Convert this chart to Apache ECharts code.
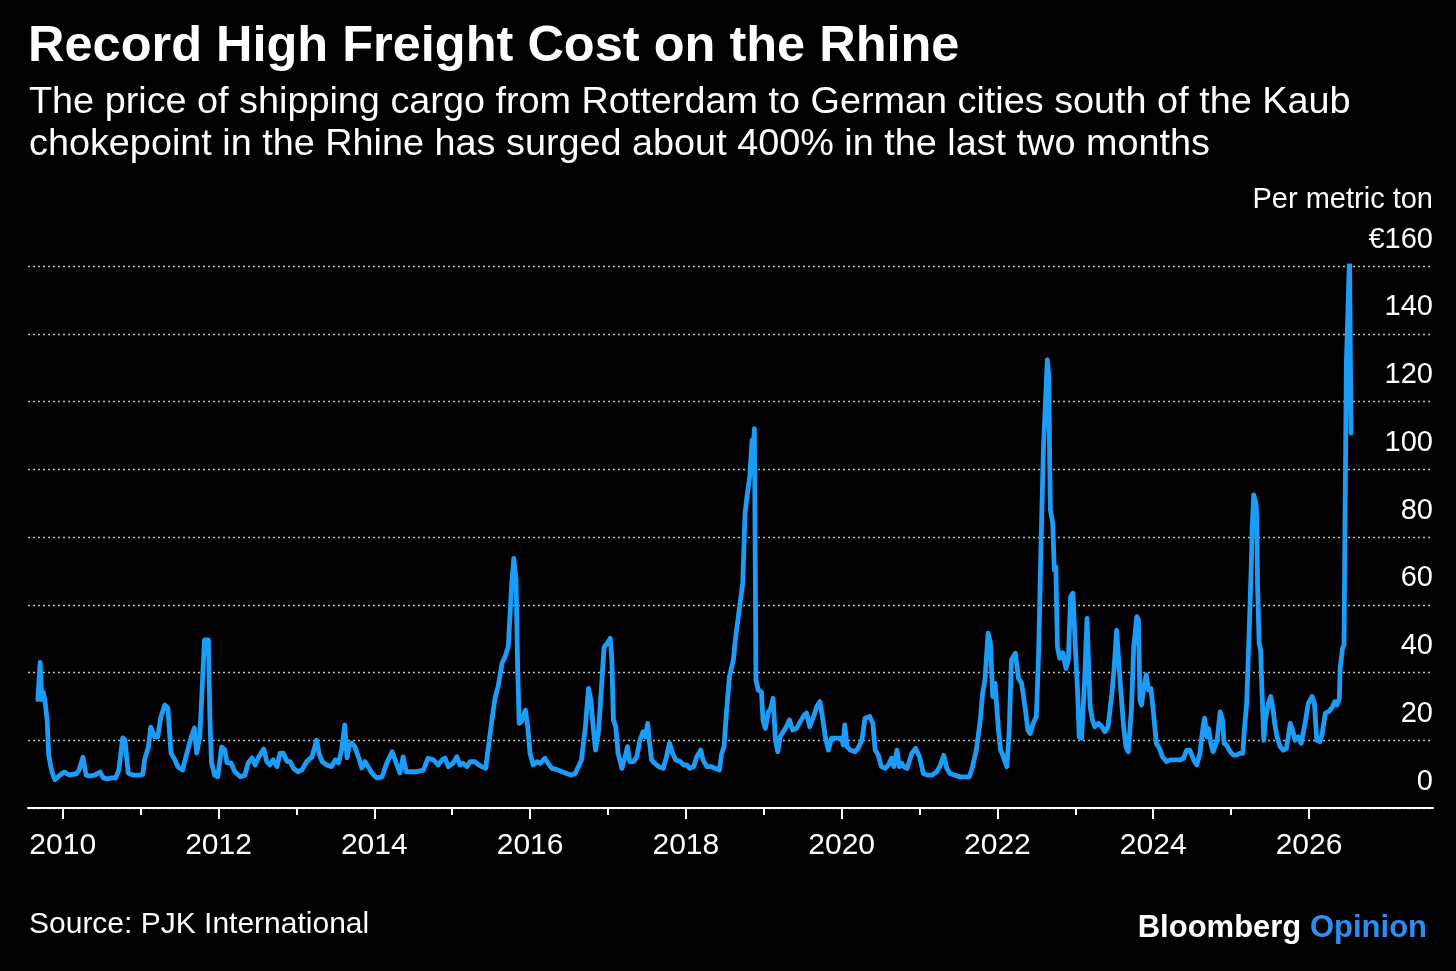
<!DOCTYPE html>
<html>
<head>
<meta charset="utf-8">
<script src="https://cdn.jsdelivr.net/npm/echarts@6/dist/echarts.min.js"></script>
<style>
html,body{margin:0;padding:0;background:#000;}
#chart{width:1456px;height:971px;}
</style>
</head>
<body>
<div id="chart"></div>
<script>
// Decimal-year dates and freight cost (EUR per metric ton)
const dates = [
2009.68,2009.71,2009.73,2009.75,2009.77,2009.80,2009.82,2009.85,2009.88,2009.90,2009.94,2009.98,
2010.02,2010.06,2010.09,2010.13,2010.17,2010.21,2010.26,2010.30,2010.35,2010.41,2010.48,2010.52,
2010.57,2010.63,2010.68,2010.72,2010.77,2010.80,2010.84,2010.90,2010.99,2011.03,2011.05,2011.10,
2011.13,2011.18,2011.22,2011.26,2011.31,2011.35,2011.39,2011.44,2011.48,2011.54,2011.58,2011.65,
2011.69,2011.72,2011.76,2011.82,2011.87,2011.89,2011.91,2011.95,2011.99,2012.04,2012.08,2012.11,
2012.16,2012.21,2012.28,2012.34,2012.38,2012.43,2012.47,2012.51,2012.58,2012.62,2012.66,2012.70,
2012.75,2012.79,2012.83,2012.88,2012.92,2012.96,2013.02,2013.07,2013.13,2013.20,2013.26,2013.29,
2013.33,2013.39,2013.45,2013.50,2013.54,2013.58,2013.62,2013.65,2013.68,2013.71,2013.75,2013.80,
2013.84,2013.88,2013.92,2013.97,2014.03,2014.10,2014.16,2014.23,2014.29,2014.33,2014.37,2014.41,
2014.46,2014.54,2014.63,2014.69,2014.76,2014.82,2014.87,2014.91,2014.95,2015.01,2015.06,2015.10,
2015.14,2015.19,2015.23,2015.29,2015.34,2015.38,2015.43,2015.46,2015.51,2015.55,2015.59,2015.64,
2015.68,2015.72,2015.76,2015.79,2015.82,2015.84,2015.86,2015.89,2015.94,2015.97,2016.00,2016.04,
2016.09,2016.13,2016.19,2016.23,2016.28,2016.34,2016.41,2016.47,2016.53,2016.58,2016.62,2016.66,
2016.71,2016.75,2016.78,2016.81,2016.84,2016.88,2016.92,2016.95,2016.99,2017.03,2017.05,2017.07,
2017.10,2017.13,2017.18,2017.22,2017.25,2017.28,2017.33,2017.37,2017.41,2017.45,2017.48,2017.51,
2017.53,2017.56,2017.60,2017.65,2017.71,2017.75,2017.79,2017.83,2017.87,2017.93,2017.97,2018.01,
2018.05,2018.10,2018.14,2018.19,2018.22,2018.27,2018.33,2018.37,2018.43,2018.46,2018.49,2018.52,
2018.56,2018.61,2018.64,2018.69,2018.73,2018.76,2018.79,2018.82,2018.85,2018.86,2018.88,2018.90,
2018.93,2018.97,2018.99,2019.02,2019.06,2019.09,2019.12,2019.15,2019.18,2019.21,2019.25,2019.29,
2019.33,2019.37,2019.42,2019.47,2019.52,2019.55,2019.59,2019.64,2019.68,2019.72,2019.76,2019.79,
2019.83,2019.87,2019.94,2020.00,2020.02,2020.04,2020.07,2020.11,2020.17,2020.21,2020.26,2020.30,
2020.36,2020.40,2020.43,2020.47,2020.51,2020.56,2020.60,2020.64,2020.67,2020.71,2020.74,2020.77,
2020.80,2020.84,2020.90,2020.95,2021.00,2021.05,2021.10,2021.16,2021.22,2021.26,2021.31,2021.35,
2021.39,2021.45,2021.52,2021.58,2021.64,2021.68,2021.73,2021.78,2021.81,2021.84,2021.88,2021.91,
2021.94,2021.97,2022.01,2022.04,2022.07,2022.12,2022.15,2022.18,2022.23,2022.27,2022.31,2022.36,
2022.39,2022.42,2022.46,2022.50,2022.53,2022.56,2022.59,2022.64,2022.66,2022.67,2022.68,2022.71,
2022.73,2022.75,2022.77,2022.80,2022.84,2022.88,2022.91,2022.94,2022.97,2023.00,2023.03,2023.05,
2023.08,2023.12,2023.15,2023.17,2023.19,2023.22,2023.25,2023.30,2023.34,2023.38,2023.42,2023.47,
2023.50,2023.53,2023.55,2023.58,2023.62,2023.65,2023.68,2023.72,2023.75,2023.79,2023.81,2023.83,
2023.85,2023.88,2023.91,2023.94,2023.97,2024.00,2024.04,2024.08,2024.12,2024.17,2024.22,2024.28,
2024.35,2024.39,2024.43,2024.47,2024.52,2024.56,2024.60,2024.64,2024.66,2024.69,2024.71,2024.74,
2024.77,2024.82,2024.86,2024.89,2024.91,2024.94,2024.99,2025.03,2025.07,2025.11,2025.15,2025.17,
2025.20,2025.23,2025.26,2025.27,2025.29,2025.32,2025.33,2025.34,2025.36,2025.38,2025.39,2025.42,
2025.44,2025.48,2025.51,2025.54,2025.56,2025.59,2025.63,2025.67,2025.71,2025.76,2025.79,2025.82,
2025.86,2025.90,2025.95,2025.99,2026.04,2026.07,2026.10,2026.14,2026.17,2026.21,2026.25,2026.29,
2026.33,2026.36,2026.39,2026.40,2026.43,2026.45,2026.46,2026.48,2026.52,2026.54
];
const freight = [
32,43,32,34.2,32,26,15.6,11.8,9.4,8.3,9.2,10,
10.6,10,9.7,10,10,11.2,15,9.7,9.4,9.7,10.6,8.9,
8.6,8.9,8.9,11.2,20.7,20,10.3,9.7,9.7,10,14.2,18,
23.9,21,21,26.9,30.4,29.5,16.2,14.2,12.1,11.2,15,21,
23.6,16.2,21,49.6,49.6,26,13.3,9.7,9.2,18,17.1,13.3,
13.3,10.7,9.2,9.7,13.3,14.8,12.7,14.8,17.4,13.7,12.7,14.2,
12.2,16.2,16.2,13.7,13.7,11.8,10.7,11.2,13.7,15.1,20,16.2,
13.7,12.7,12.2,14.2,13.3,17.1,24.5,14.8,18.6,19.2,18.1,14.8,
11.8,13.7,12.2,10.3,8.9,9.2,13.3,16.6,12.7,10.3,15.1,10.7,
10.7,10.7,11.2,14.7,14.2,12.7,14.2,14.7,12.2,13.2,15.1,12.7,
13.2,12.2,13.7,13.7,12.7,12.2,11.7,17.1,26,32.4,35.8,42.7,
44.7,47.6,64.4,73.7,67.3,41.7,25,25.5,28.9,24,16.1,12.7,
13.7,13.2,14.7,13.2,11.7,11.4,10.7,10.2,9.7,10.2,12.2,14.2,
24,35.3,31.9,24,17.1,23,36.8,47.6,48.6,50.1,43.7,26,
24,16.1,11.7,15.1,18.1,13.7,13.7,15.1,20,22.5,21,25,
20,14.2,13.2,12.2,11.7,15.1,19.1,16.1,14.2,13.7,12.7,12.7,
11.7,12.2,15.1,17.1,14.2,12.2,12.2,11.7,11.2,16.1,18.1,28,
38.8,43.7,50.6,59.4,66.3,87,92.9,97.8,108.6,104,112,37.8,
34.8,34.3,26,23.5,28.4,29.4,32.4,20,16.6,21,22.5,24,
26,23,23.5,25.5,27.5,28,24,27,29.9,31.4,26,21,
17.1,20.6,20.6,20.6,18.6,24.5,18.1,17.1,16.6,17.6,20,26.5,
27,25,17.1,15.6,12.2,11.7,12.7,14.7,12.2,17.1,12.2,13.2,
12.2,11.7,16.1,17.6,15.1,10.2,9.7,9.7,10.7,12.2,15.6,11.7,
10.2,9.7,9.2,9.2,9.2,12.2,17.1,26,33.9,37.8,51.6,48.6,
32.9,36.8,24,17.1,15.6,12.2,22,43.7,45.7,38.3,36.8,28.9,
23,22,25,27,46.6,78.1,105.7,132.3,127.3,103.7,88,84,
70.3,71.2,47.6,44.2,45.8,41.2,43.7,62.4,63.4,47.6,33.9,21,
20.6,37.8,56,56.5,29.9,26,24,25,24,22.5,24,33.9,
41.7,52.5,52.5,35.8,24,18.1,16.6,28.9,47.6,56.5,55.5,31.9,
30.4,35.8,39.3,34.8,35.3,28.9,19.1,17.6,15.1,13.7,14.2,14.2,
14.2,14.7,17.1,17.1,14.2,12.7,16.1,24,26.5,21,23.5,19.1,
16.6,20,28.4,26,19.1,18.6,16.6,15.6,15.6,16.1,16.1,23,
30.9,50.6,72.2,82.1,92.4,90,86,65.3,48.6,46.6,38.8,20,
26,30.9,32.9,28.9,25,21,18.1,17.1,17.6,25,23,20,
21,19.1,25,30.9,32.9,30.9,20,19.6,22,28,28.4,29.4,
31.4,30.4,32.4,41.2,47.1,48.1,77.6,131.4,162.4,110.7
];
const labelYears = [2010, 2012, 2014, 2016, 2018, 2020, 2022, 2024, 2026];
const minorYears = [2011, 2013, 2015, 2017, 2019, 2021, 2023, 2025];
const yMin = 0, yMax = 160, yStep = 20;

const FONT = 'Liberation Sans';
const seriesData = dates.map((d, i) => [d, freight[i]]);

const chart = echarts.init(document.getElementById('chart'), null, {renderer: 'canvas'});
chart.setOption({
  backgroundColor: '#000',
  animation: false,
  title: [
    {text: 'Record High Freight Cost on the Rhine', left: 28, top: 19, padding: 0,
     textStyle: {color: '#fff', fontFamily: FONT, fontWeight: 'bold', fontSize: 50.5, lineHeight: 57}},
    {text: 'The price of shipping cargo from Rotterdam to German cities south of the Kaub\nchokepoint in the Rhine has surged about 400% in the last two months',
     left: 29, top: 82, padding: 0,
     textStyle: {color: '#fff', fontFamily: FONT, fontWeight: 'normal', fontSize: 37.8, lineHeight: 42}},
    {text: 'Per metric ton', right: 23, top: 183, padding: 0,
     textStyle: {color: '#fff', fontFamily: FONT, fontWeight: 'normal', fontSize: 29, lineHeight: 34}},
    {text: 'Source: PJK International', left: 29, top: 908, padding: 0,
     textStyle: {color: '#fff', fontFamily: FONT, fontWeight: 'normal', fontSize: 30, lineHeight: 34}},
    {text: '{a|Bloomberg} {b|Opinion}', right: 29, top: 910, padding: 0,
     textStyle: {fontFamily: FONT, fontSize: 31, lineHeight: 36,
       rich: {
         a: {color: '#fff', fontFamily: FONT, fontWeight: 'bold', fontSize: 31},
         b: {color: '#2b8ef5', fontFamily: FONT, fontWeight: 'bold', fontSize: 31}
       }}}
  ],
  grid: {left: 28, right: 23, top: 266, bottom: 163, containLabel: false},
  xAxis: [
    {
      type: 'value', min: 2009.554, max: 2027.592,
      axisLine: {show: true, lineStyle: {color: '#fff', width: 2}},
      axisTick: {show: true, customValues: labelYears, length: 11, lineStyle: {color: '#fff', width: 2}},
      axisLabel: {show: true, customValues: labelYears, color: '#fff', fontFamily: FONT, fontSize: 30, margin: 23,
                  formatter: v => String(Math.round(v))},
      splitLine: {show: false}
    },
    {
      type: 'value', min: 2009.554, max: 2027.592, position: 'bottom',
      axisLine: {show: false},
      axisTick: {show: true, customValues: minorYears, length: 7, lineStyle: {color: '#fff', width: 2}},
      axisLabel: {show: false},
      splitLine: {show: false}
    }
  ],
  yAxis: {
    type: 'value', position: 'right', min: yMin, max: yMax, interval: yStep,
    axisLine: {show: false}, axisTick: {show: false},
    axisLabel: {inside: true, margin: 0, color: '#fff', fontFamily: FONT, fontSize: 29, lineHeight: 29,
                verticalAlign: 'bottom', align: 'right', padding: [0, 0, 12, 0],
                formatter: v => v === 160 ? '€160' : String(v)},
    splitLine: {show: true, lineStyle: {color: '#bdbdbd', width: 1.3, type: [2, 3]}}
  },
  series: [{
    type: 'line', data: seriesData, showSymbol: false, symbol: 'none',
    lineStyle: {color: '#1b9cf8', width: 4.8, join: 'round', cap: 'round'},
    itemStyle: {color: '#1b9cf8'}, z: 5
  }]
});
</script>
</body>
</html>
